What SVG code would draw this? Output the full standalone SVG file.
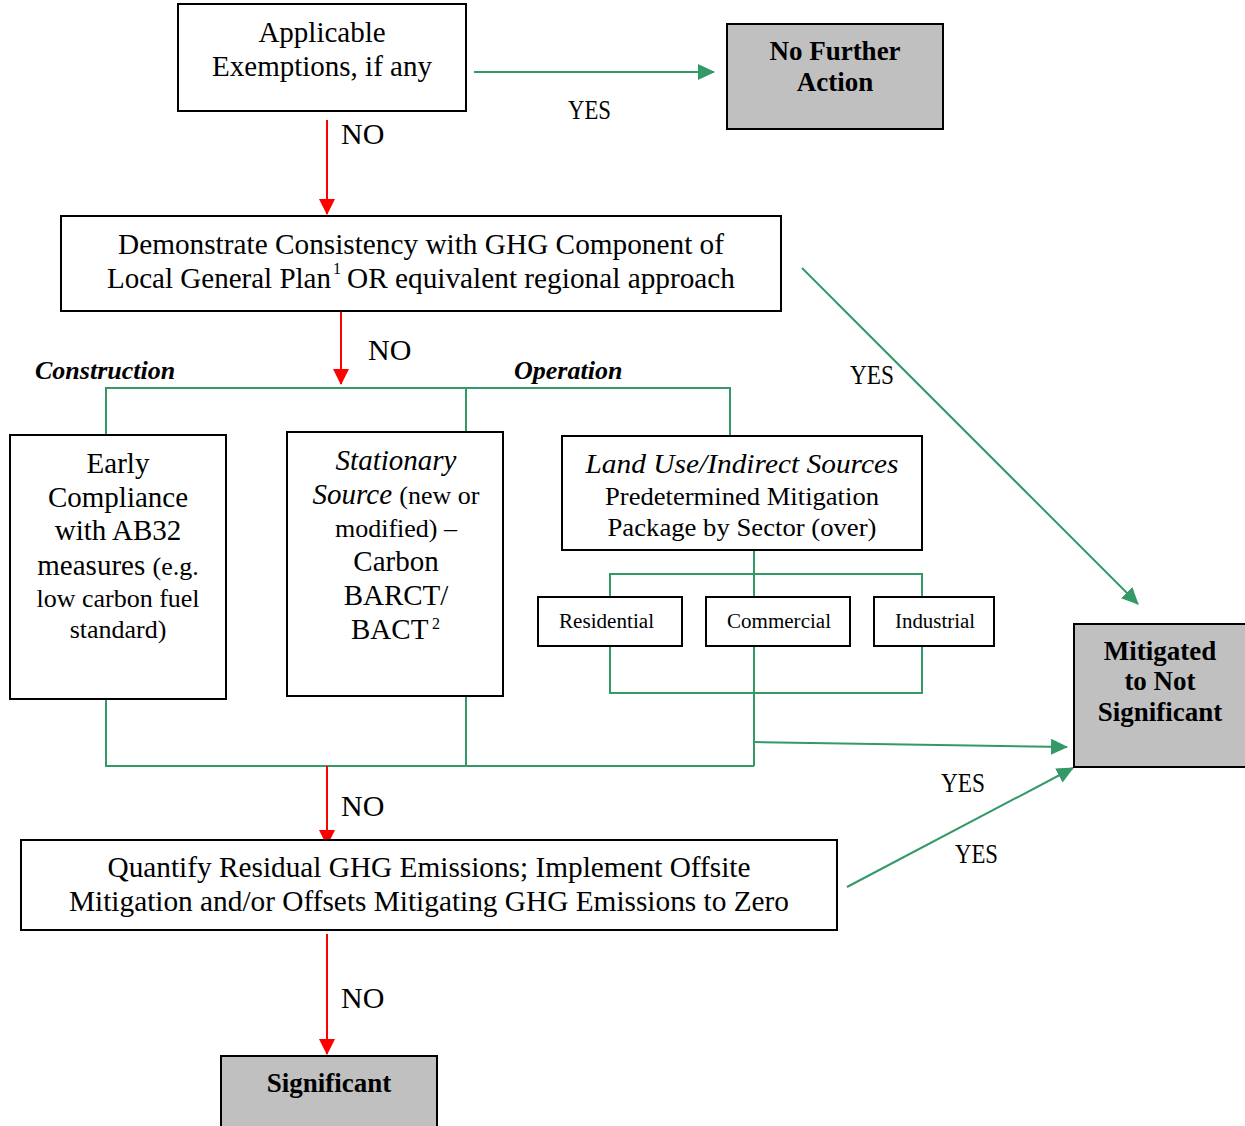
<svg xmlns="http://www.w3.org/2000/svg" width="1245" height="1126" viewBox="0 0 1245 1126">
<style>
.box{fill:#fff;stroke:#000;stroke-width:2}
.gbox{fill:#c0c0c0;stroke:#000;stroke-width:2}
.t{font-family:"Liberation Serif","Times New Roman",serif;font-size:29px;fill:#000}
.c{text-anchor:middle}
.b{font-weight:bold;font-size:27px}
.bi{font-weight:bold;font-style:italic;font-size:26px}
.i{font-style:italic}
.s{font-size:26px}
.sup{font-size:16px}
.lbl{font-size:30px}
.yes{font-size:28px}
.sec{font-size:20px}
.g{stroke:#339966;stroke-width:2;fill:none}
.r{stroke:#ff0000;stroke-width:2;fill:none}
</style>
<defs>
<marker id="ah-r" markerWidth="16" markerHeight="16" refX="15" refY="8" orient="auto" markerUnits="userSpaceOnUse"><path d="M0,0 L16,8 L0,16 Z" fill="#ff0000"/></marker>
<marker id="ah-g" markerWidth="17" markerHeight="16" refX="16" refY="8" orient="auto" markerUnits="userSpaceOnUse"><path d="M0,0 L17,8 L0,16 Z" fill="#339966"/></marker>
</defs>

<g id="connectors">
<line class="g" x1="474" y1="72" x2="714" y2="72" marker-end="url(#ah-g)"/>
<line class="r" x1="327" y1="120" x2="327" y2="214" marker-end="url(#ah-r)"/>
<line class="r" x1="341" y1="312" x2="341" y2="384" marker-end="url(#ah-r)"/>
<polyline class="g" points="106,435 106,388 730,388 730,436"/>
<line class="g" x1="466" y1="388" x2="466" y2="436"/>
<line class="g" x1="754" y1="550" x2="754" y2="597"/>
<polyline class="g" points="610,597 610,574 922,574 922,597"/>
<polyline class="g" points="610,646 610,693 922,693 922,646"/>
<line class="g" x1="754" y1="646" x2="754" y2="766"/>
<polyline class="g" points="106,694 106,766 754,766"/>
<line class="g" x1="466" y1="694" x2="466" y2="766"/>
<line class="g" x1="754" y1="742" x2="1067" y2="747" marker-end="url(#ah-g)"/>
<line class="g" x1="802" y1="268" x2="1138" y2="604" marker-end="url(#ah-g)"/>
<line class="g" x1="847" y1="887" x2="1073" y2="768" marker-end="url(#ah-g)"/>
<line class="r" x1="327" y1="766" x2="327" y2="845" marker-end="url(#ah-r)"/>
<line class="r" x1="327" y1="934" x2="327" y2="1054" marker-end="url(#ah-r)"/>
<text class="t yes" x="568" y="119" textLength="43" lengthAdjust="spacingAndGlyphs">YES</text>
<text class="t lbl" x="341" y="144">NO</text>
<text class="t lbl" x="368" y="360">NO</text>
<text class="t yes" x="850" y="384" textLength="44" lengthAdjust="spacingAndGlyphs">YES</text>
<text class="t yes" x="941" y="792" textLength="44" lengthAdjust="spacingAndGlyphs">YES</text>
<text class="t yes" x="955" y="863" textLength="43" lengthAdjust="spacingAndGlyphs">YES</text>
<text class="t lbl" x="341" y="816">NO</text>
<text class="t lbl" x="341" y="1008">NO</text>
<text class="t bi" x="35" y="379">Construction</text>
<text class="t bi" x="514" y="379">Operation</text>
</g>

<g id="exemptions">
<rect class="box" x="178" y="4" width="288" height="107"/>
<text class="t c" x="322" y="42">Applicable</text>
<text class="t c" x="322" y="76">Exemptions, if any</text>
</g>

<g id="no-further-action">
<rect class="gbox" x="727" y="24" width="216" height="105"/>
<text class="t c b" x="835" y="60">No Further</text>
<text class="t c b" x="835" y="91">Action</text>
</g>

<g id="consistency">
<rect class="box" x="61" y="216" width="720" height="95"/>
<text class="t c" x="421" y="254" textLength="606" lengthAdjust="spacingAndGlyphs">Demonstrate Consistency with GHG Component of</text>
<text class="t" x="107" y="288" textLength="224" lengthAdjust="spacingAndGlyphs">Local General Plan</text>
<text class="t sup" x="333" y="274">1</text>
<text class="t" x="347" y="288" textLength="388" lengthAdjust="spacingAndGlyphs">OR equivalent regional approach</text>
</g>

<g id="early-compliance">
<rect class="box" x="10" y="435" width="216" height="264"/>
<text class="t c" x="118" y="473">Early</text>
<text class="t c" x="118" y="507">Compliance</text>
<text class="t c" x="118" y="540">with AB32</text>
<text class="t c" x="118" y="575">measures <tspan class="s">(e.g.</tspan></text>
<text class="t c s" x="118" y="607">low carbon fuel</text>
<text class="t c s" x="118" y="638">standard)</text>
</g>

<g id="stationary-source">
<rect class="box" x="287" y="432" width="216" height="264"/>
<text class="t c i" x="396" y="470">Stationary</text>
<text class="t c" x="396" y="504"><tspan class="i">Source</tspan> <tspan class="s">(new or</tspan></text>
<text class="t c s" x="396" y="537">modified) –</text>
<text class="t c" x="396" y="571">Carbon</text>
<text class="t c" x="396" y="605">BARCT/</text>
<text class="t" x="351" y="639">BACT</text>
<text class="t sup" x="432" y="629">2</text>
</g>

<g id="land-use">
<rect class="box" x="562" y="436" width="360" height="114"/>
<text class="t c i" x="742" y="473" style="font-size:27px" textLength="313" lengthAdjust="spacingAndGlyphs">Land Use/Indirect Sources</text>
<text class="t c" x="742" y="505" style="font-size:26px" textLength="274" lengthAdjust="spacingAndGlyphs">Predetermined Mitigation</text>
<text class="t c" x="742" y="536" style="font-size:26px" textLength="269" lengthAdjust="spacingAndGlyphs">Package by Sector (over)</text>
</g>

<g id="residential">
<rect class="box" x="538" y="597" width="144" height="49"/>
<text class="t sec" x="559" y="628" textLength="95" lengthAdjust="spacingAndGlyphs">Residential</text>
</g>
<g id="commercial">
<rect class="box" x="706" y="597" width="144" height="49"/>
<text class="t sec" x="727" y="628" textLength="104" lengthAdjust="spacingAndGlyphs">Commercial</text>
</g>
<g id="industrial">
<rect class="box" x="874" y="597" width="120" height="49"/>
<text class="t sec" x="895" y="628" textLength="80" lengthAdjust="spacingAndGlyphs">Industrial</text>
</g>

<g id="mitigated">
<rect class="gbox" x="1074" y="624" width="175" height="143"/>
<text class="t c b" x="1160" y="660">Mitigated</text>
<text class="t c b" x="1160" y="690">to Not</text>
<text class="t c b" x="1160" y="721">Significant</text>
</g>

<g id="quantify">
<rect class="box" x="21" y="840" width="816" height="90"/>
<text class="t c" x="429" y="877" textLength="643" lengthAdjust="spacingAndGlyphs">Quantify Residual GHG Emissions; Implement Offsite</text>
<text class="t c" x="429" y="911" textLength="720" lengthAdjust="spacingAndGlyphs">Mitigation and/or Offsets Mitigating GHG Emissions to Zero</text>
</g>

<g id="significant">
<rect class="gbox" x="221" y="1056" width="216" height="80"/>
<text class="t c b" x="329" y="1092">Significant</text>
</g>
</svg>
